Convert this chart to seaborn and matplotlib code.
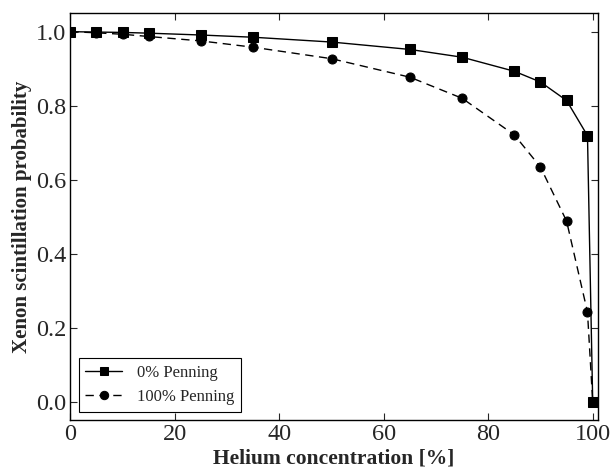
import pandas as pd
import matplotlib
matplotlib.use("Agg")
import matplotlib.pyplot as plt
import seaborn as sns

# data
helium = [0, 5, 10, 15, 25, 35, 50, 65, 75, 85, 90, 95, 99, 100]
penning_0 = [1.0, 0.999, 0.998, 0.996, 0.991, 0.985, 0.972, 0.952, 0.931, 0.893, 0.864, 0.814, 0.719, 0.0]
penning_100 = [1.0, 0.997, 0.993, 0.987, 0.975, 0.958, 0.927, 0.877, 0.820, 0.721, 0.634, 0.488, 0.242, 0.0]

df = pd.DataFrame({'helium': helium, 'p0': penning_0, 'p100': penning_100})

sns.set_style("ticks")
plt.rcParams['font.family'] = ['Liberation Serif', 'DejaVu Serif']

fig, ax = plt.subplots(figsize=(6.12, 4.71), dpi=100)
sns.lineplot(x='helium', y='p0', data=df, ax=ax, color='black', lw=1.0,
             marker='s', markersize=6.5, markeredgecolor='black', label='0% Penning')
sns.lineplot(x='helium', y='p100', data=df, ax=ax, color='black', lw=1.0,
             dashes=False, marker='o', markersize=6.5, markeredgecolor='black',
             label='100% Penning')
ax.lines[1].set_dashes((6, 4))

ax.set_xlim(0, 101)
ax.set_ylim(-0.05, 1.05)
ax.set_xticks([0, 20, 40, 60, 80, 100])
ax.set_yticks([0.0, 0.2, 0.4, 0.6, 0.8, 1.0])
ax.set_yticklabels(['0.0', '0.2', '0.4', '0.6', '0.8', '1.0'])
ax.tick_params(direction='in', top=True, right=True, labelsize=17.5, length=5, width=0.8, pad=3)
for s in ax.spines.values():
    s.set_linewidth(1.0)
    s.set_color('black')

ax.set_xlabel('Helium concentration [%]', fontsize=15.5, fontweight='bold', labelpad=2)
ax.set_ylabel('Xenon scintillation probability', fontsize=15, fontweight='bold', labelpad=3)

leg = ax.legend(loc='lower left', fontsize=12, fancybox=False, framealpha=1,
                edgecolor='black', handlelength=2.2, handletextpad=0.9,
                borderaxespad=0.5)
leg.get_frame().set_linewidth(0.8)
for h in leg.legend_handles:
    h.set_markersize(6)
leg.legend_handles[1].set_dashes((6, 4))

plt.subplots_adjust(left=0.115, right=0.977, top=0.972, bottom=0.108)
plt.savefig('out.png', dpi=100)
